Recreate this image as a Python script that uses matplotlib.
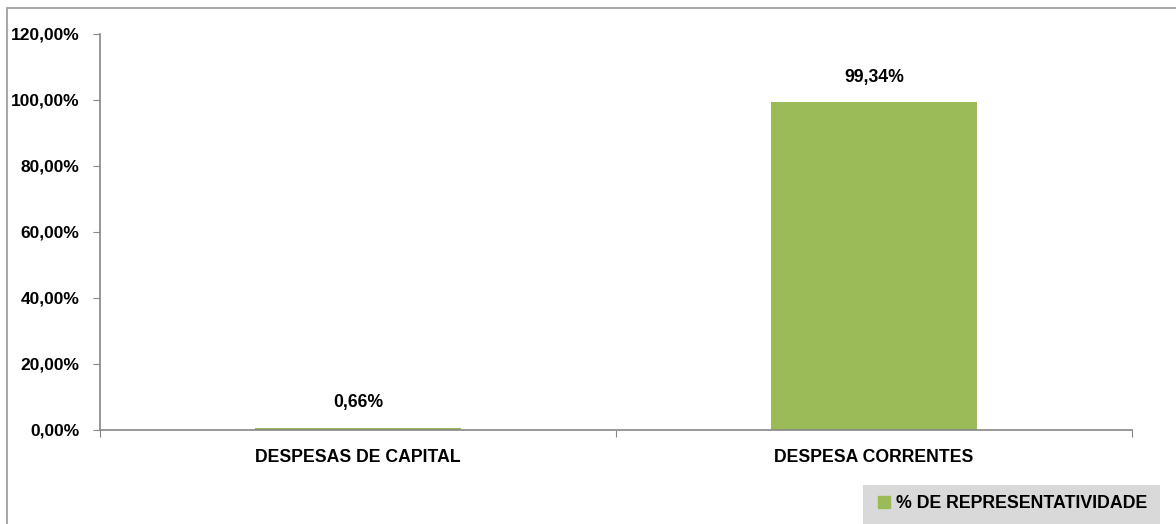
import matplotlib
matplotlib.use("Agg")
import matplotlib.pyplot as plt
from matplotlib.patches import Rectangle
from matplotlib import font_manager

categories = ["DESPESAS DE CAPITAL", "DESPESA CORRENTES"]
values = [0.66, 99.34]
value_labels = ["0,66%", "99,34%"]
yticks = [0, 20, 40, 60, 80, 100, 120]
ytick_labels = ["0,00%", "20,00%", "40,00%", "60,00%", "80,00%", "100,00%", "120,00%"]
series_name = "% DE REPRESENTATIVIDADE"

names = {f.name for f in font_manager.fontManager.ttflist}
fam = [f for f in ["Liberation Sans Narrow", "Liberation Sans", "DejaVu Sans"] if f in names]
plt.rcParams["font.family"] = fam

green = "#9BBB59"
axis_gray = "#868686"
W, H = 1176, 524

fig = plt.figure(figsize=(W / 100, H / 100), dpi=100)
# outer chart border (cropped on right and bottom in the reference)
fig.patches.append(Rectangle((7 / W, -0.05), 1.1, (H - 8) / H + 0.05, transform=fig.transFigure,
                             fill=False, edgecolor="#A0A0A0", linewidth=1.3, clip_on=False))
# legend background
fig.patches.append(Rectangle((863 / W, 0), 297 / W, 39 / H, transform=fig.transFigure,
                             facecolor="#D9D9D9", edgecolor="none"))

ax = fig.add_axes([100 / W, (H - 430) / H, 1032 / W, 396 / H])
x = list(range(len(categories)))
bars = ax.bar(x, values, width=0.4, color=green, zorder=2)
ax.set_xlim(-0.5, len(categories) - 0.5)
ax.set_ylim(0, 120)
ax.set_yticks(yticks)
ax.set_yticklabels(ytick_labels, fontsize=12.5, fontweight="bold")
ax.set_xticks([i - 0.5 for i in range(len(categories) + 1)])
ax.set_xticklabels([])
ax.set_xticks(x, minor=True)
ax.set_xticklabels(categories, minor=True, fontsize=12.7, fontweight="bold")
ax.tick_params(axis="x", which="minor", length=0, pad=14)
ax.tick_params(axis="x", which="major", length=5, color=axis_gray, direction="out")
ax.tick_params(axis="y", length=5, color=axis_gray, direction="out", pad=10)
for s in ["top", "right"]:
    ax.spines[s].set_visible(False)
for s in ["left", "bottom"]:
    ax.spines[s].set_color(axis_gray)
    ax.spines[s].set_linewidth(1.2)

for b, lab in zip(bars, value_labels):
    ax.annotate(lab, (b.get_x() + b.get_width() / 2, b.get_height()),
                xytext=(0, 12), textcoords="offset points", ha="center", va="bottom",
                fontsize=12.7, fontweight="bold")

leg = fig.legend([Rectangle((0, 0), 1, 1, color=green)], [series_name],
                 loc="center left", bbox_to_anchor=(878 / W, 20 / H),
                 frameon=False, prop={"size": 12.8, "weight": "bold"},
                 handlelength=0.65, handleheight=0.65, handletextpad=0.35, borderpad=0,
                 borderaxespad=0)

fig.savefig("out.png", dpi=100)
